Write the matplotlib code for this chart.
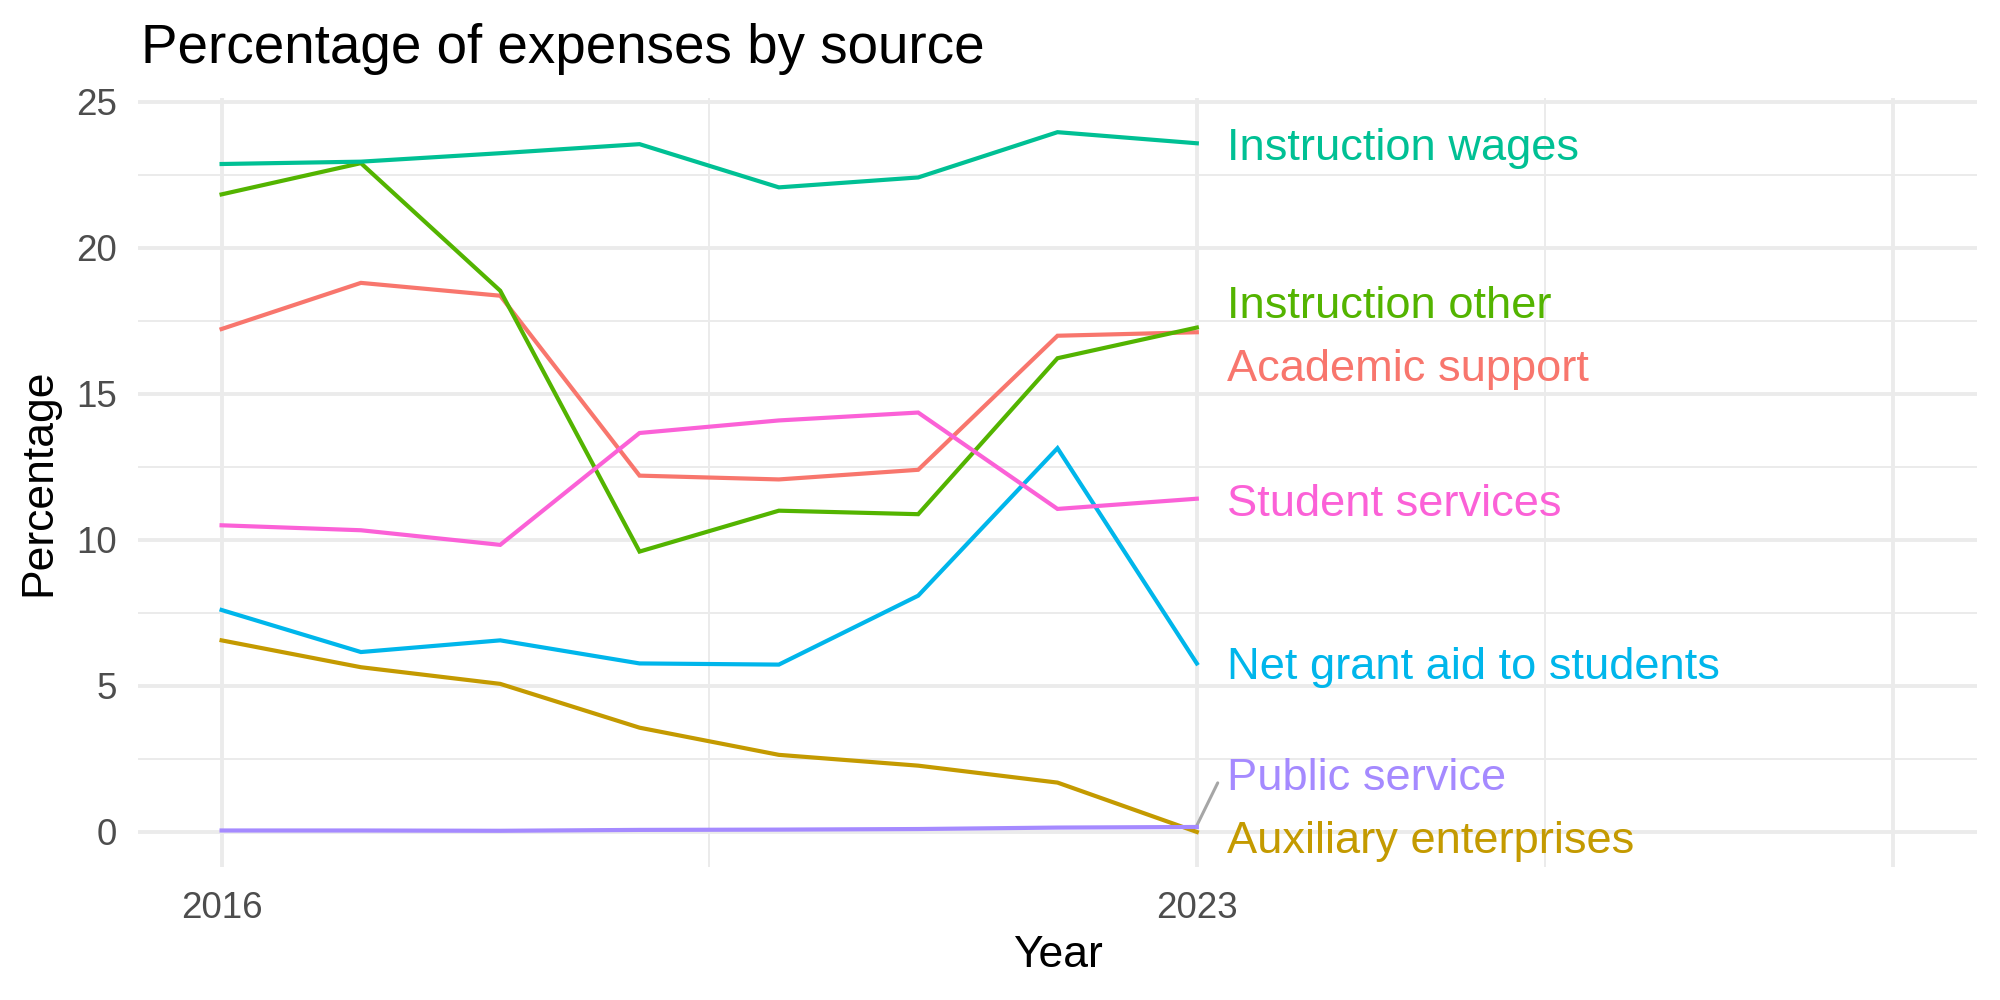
import matplotlib
matplotlib.use("Agg")
import matplotlib.pyplot as plt

plt.rcParams['font.family'] = ['Liberation Sans', 'DejaVu Sans']

years = [2016, 2017, 2018, 2019, 2020, 2021, 2022, 2023]

academic_support = [17.22, 18.80, 18.36, 12.20, 12.07, 12.40, 16.99, 17.11]
auxiliary_enterprises = [6.56, 5.64, 5.07, 3.57, 2.64, 2.27, 1.69, 0.0]
instruction_other = [21.83, 22.90, 18.53, 9.60, 11.00, 10.88, 16.22, 17.27]
instruction_wages = [22.87, 22.95, 23.24, 23.55, 22.07, 22.41, 23.96, 23.58]
net_grant_aid = [7.60, 6.16, 6.56, 5.77, 5.73, 8.09, 13.14, 5.77]
public_service = [0.05, 0.05, 0.04, 0.07, 0.08, 0.10, 0.15, 0.17]
student_services = [10.50, 10.33, 9.83, 13.66, 14.09, 14.36, 11.06, 11.41]

series_names = ["Academic support", "Auxiliary enterprises", "Instruction other",
                "Instruction wages", "Net grant aid to students", "Public service",
                "Student services"]
series_values = [academic_support, auxiliary_enterprises, instruction_other,
                 instruction_wages, net_grant_aid, public_service, student_services]
colors = ["#F8766D", "#C49A00", "#53B400", "#00C094", "#00B6EB", "#A58AFF", "#FB61D7"]

# where the repelled end labels ended up (middle of capitals)
label_y = [15.98, -0.18, 18.15, 23.56, 5.78, 1.98, 11.38]

fig = plt.figure(figsize=(20, 10), dpi=100)
ax = fig.add_axes([0.069, 0.133, 0.9195, 0.769])

for name, vals, col in zip(series_names, series_values, colors):
    ax.plot(years, vals, color=col, lw=3.0, solid_joinstyle='miter', zorder=3)

cap = 1.09  # cap height in data units
for name, vals, col, ly in zip(series_names, series_values, colors, label_y):
    ax.text(2023.22, ly - cap / 2, name, color=col, fontsize=32.6, ha='left', va='baseline', zorder=4)
    if abs(ly - vals[-1]) > 1.5:
        ax.plot([years[-1], 2023.15], [vals[-1] + 0.05, ly - 0.3], color='#A6A6A6', lw=2.2,
                solid_capstyle='round', zorder=2)

ax.set_xlim(2015.4, 2028.6)
ax.set_ylim(-1.2, 25.13)
ax.set_xticks([2016, 2023, 2028])
ax.set_xticklabels(["2016", "2023", ""])
ax.set_xticks([2019.5, 2025.5], minor=True)
ax.set_yticks([0, 5, 10, 15, 20, 25])
ax.set_yticks([2.5, 7.5, 12.5, 17.5, 22.5], minor=True)

ax.grid(which='major', color='#EBEBEB', lw=2.8)
ax.grid(which='minor', color='#EBEBEB', lw=1.4)
ax.set_axisbelow(True)
for s in ax.spines.values():
    s.set_visible(False)
ax.tick_params(which='both', length=0)
ax.tick_params(axis='x', pad=17, labelsize=26.5, labelcolor='#4D4D4D')
ax.tick_params(axis='y', pad=15, labelsize=26.5, labelcolor='#4D4D4D')

ax.set_xlabel("Year", fontsize=32, labelpad=7)
ax.set_ylabel("Percentage", fontsize=32, labelpad=12)
fig.text(0.0705, 0.937, "Percentage of expenses by source", fontsize=39.4, ha='left', va='baseline')

fig.savefig("out.png", dpi=100)
